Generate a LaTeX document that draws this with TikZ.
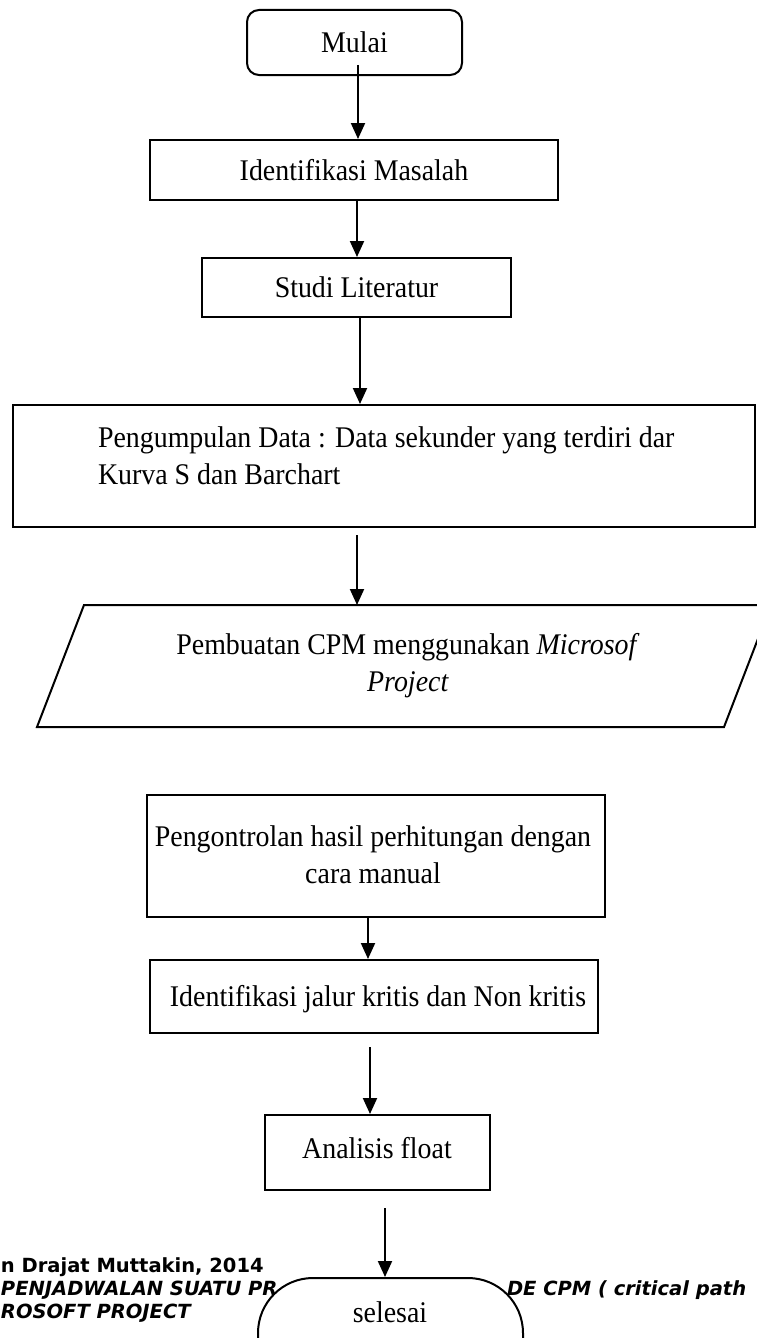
\documentclass[tikz,border=0pt]{standalone}
\usepackage{fontspec}
\setmainfont{Liberation Serif}[FakeStretch=0.93]
\newfontfamily\footfont{DejaVu Sans}
\usetikzlibrary{arrows.meta}
\begin{document}
\begin{tikzpicture}[x=1pt,y=-1pt,line width=2pt,
  box/.style={draw,rectangle,inner sep=0pt,font=\fontsize{30}{38}\selectfont,align=center},
  arr/.style={-{Triangle[length=16pt,width=14pt]}},
  lbl/.style={font=\fontsize{30}{37}\selectfont,align=center,inner sep=0pt},
  foot/.style={font=\footfont\bfseries\fontsize{19.5}{23}\selectfont,inner sep=0pt,anchor=base west}]
\clip (0,0) rectangle (757,1338);
\fill[white] (0,0) rectangle (757,1338);
% footer text (partly hidden by the end terminal)
\node[foot] (f1) at (0,1272) {n Drajat Muttakin, 2014};
\node[foot] (f2) at (0,1295) {\itshape PENJADWALAN SUATU PR};
\node[foot] (f3) at (506,1295) {\itshape DE CPM ( critical path};
\node[foot] (f4) at (0,1318) {\itshape ROSOFT PROJECT};
% nodes
\node[box,rounded corners=12pt,minimum width=215pt,minimum height=65pt] (mulai) at (354.5,42.5) {Mulai};
\node[box,minimum width=408pt,minimum height=60pt] (idm) at (354,170) {Identifikasi Masalah};
\node[box,minimum width=309pt,minimum height=59pt] (studi) at (356.5,287.5) {Studi Literatur};
\node[box,minimum width=742pt,minimum height=122pt] (pk) at (384,466) {};
\node[lbl,align=left,anchor=west] (pkt) at (97,456) {Pengumpulan Data : Data sekunder yang terdiri dar\\Kurva S dan Barchart};
\draw (84,605) coordinate (pa) -- (771,605) coordinate (pb) -- (724,727) coordinate (pc) -- (37,727) coordinate (pd) -- cycle;
\coordinate (ptop) at (357,605);
\node[lbl] (pmt) at (408,666) {Pembuatan CPM menggunakan \textit{Microsof}\\\textit{Project}};
\node[box,minimum width=458pt,minimum height=122pt] (ctrl) at (376,856) {};
\node[lbl] (ctrlt) at (373,855) {Pengontrolan hasil perhitungan dengan\\cara manual};
\node[box,minimum width=448pt,minimum height=73pt] (idj) at (374,996.5) {};
\node[lbl] (idjt) at (378,999) {Identifikasi jalur kritis dan Non kritis};
\node[box,minimum width=225pt,minimum height=75pt] (an) at (377,1152.5) {};
\node[lbl] (ant) at (377,1148) {Analisis float};
\node[box,fill=white,rounded corners=55pt,minimum width=265pt,minimum height=130pt] (end) at (390.5,1343) {};
\node[lbl] (endt) at (390,1312) {selesai};
% connectors
\coordinate (s1) at (358,65);
\draw[arr] (s1) -- (s1 |- idm.north);
\coordinate (s2) at (357,200);
\draw[arr] (s2) -- (s2 |- studi.north);
\coordinate (s3) at (360,317);
\draw[arr] (s3) -- (s3 |- pk.north);
\coordinate (s4) at (357,535);
\draw[arr] (s4) -- (ptop);
\coordinate (s5) at (368,917);
\draw[arr] (s5) -- (s5 |- idj.north);
\coordinate (s6) at (370,1047);
\draw[arr] (s6) -- (s6 |- an.north);
\coordinate (s7) at (385,1208);
\draw[arr] (s7) -- (s7 |- end.north);
\end{tikzpicture}
\end{document}
